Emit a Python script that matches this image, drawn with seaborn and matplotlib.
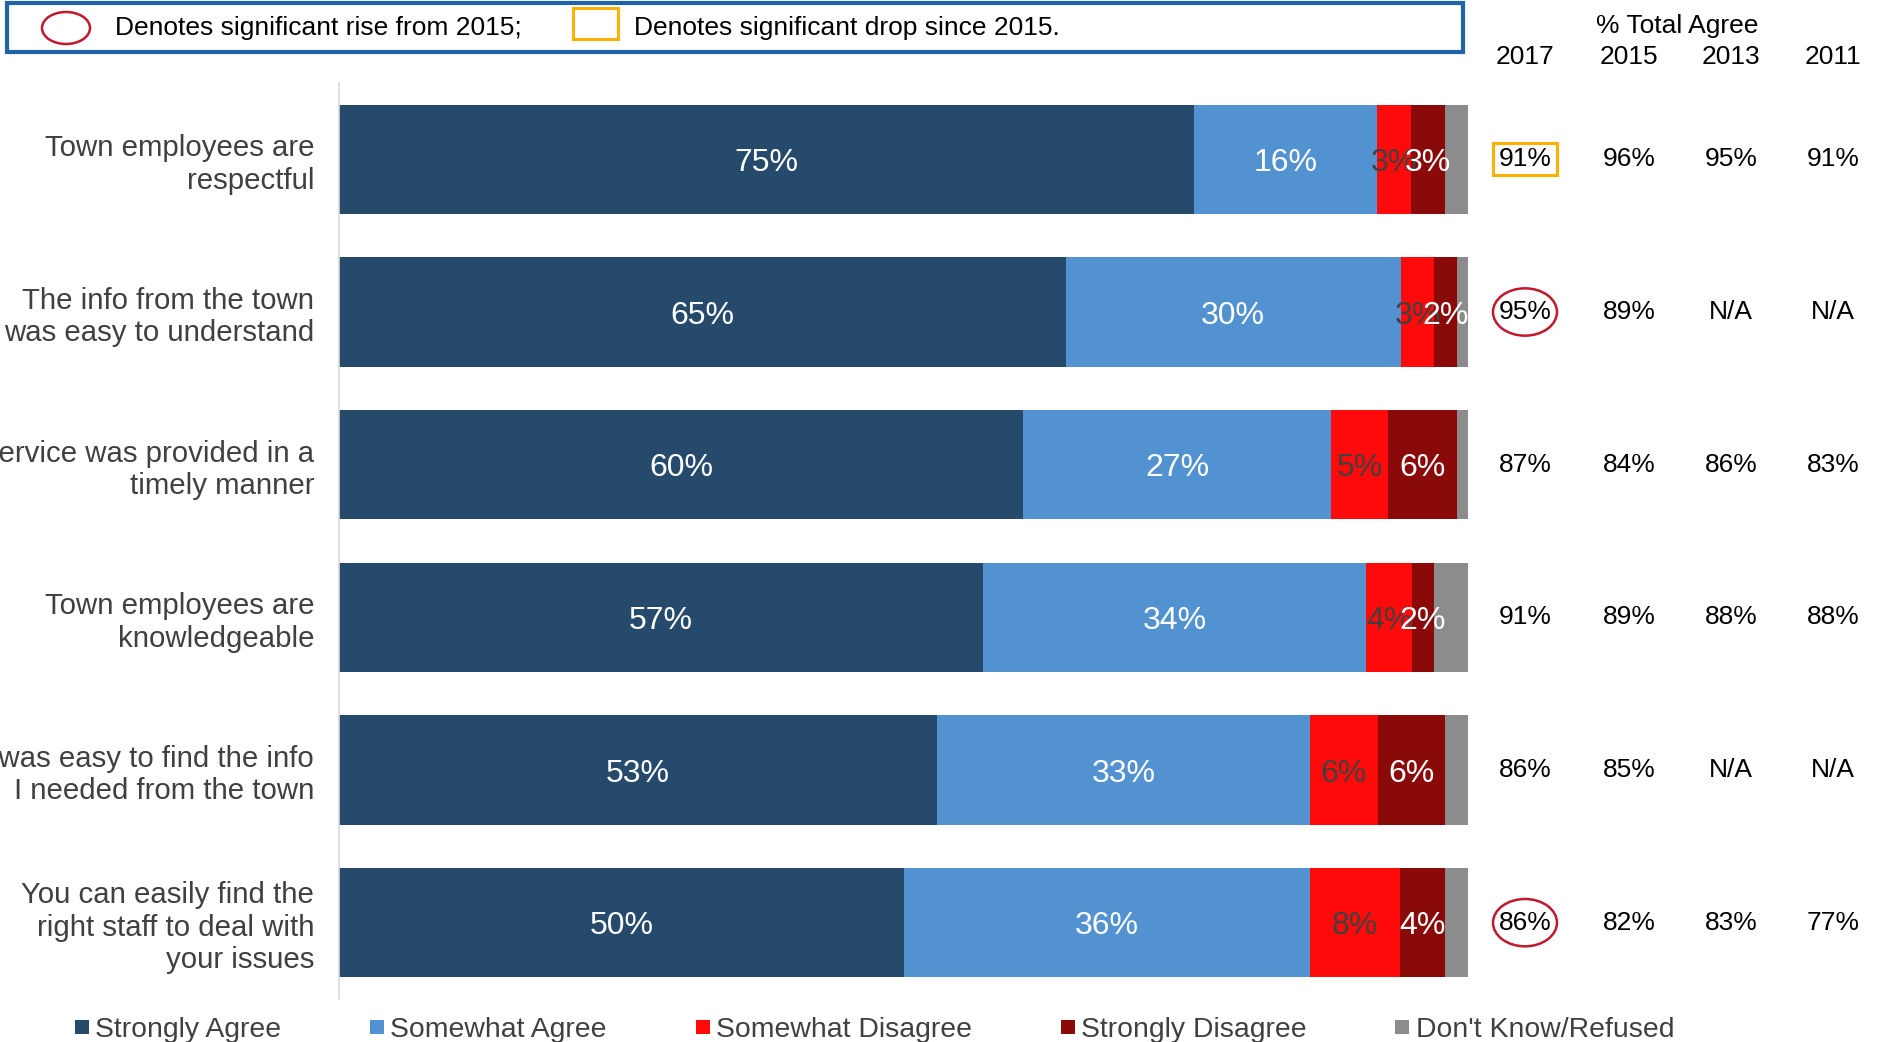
import matplotlib
matplotlib.use("Agg")
import matplotlib.pyplot as plt
import seaborn as sns
import pandas as pd
import numpy as np
from matplotlib.patches import Ellipse, Rectangle
from matplotlib.lines import Line2D
from matplotlib.transforms import blended_transform_factory

# ---- data -------------------------------------------------------------
statements = [
    "Town employees are\nrespectful",
    "The info from the town\nwas easy to understand",
    "Service was provided in a\ntimely manner",
    "Town employees are\nknowledgeable",
    "It was easy to find the info\nI needed from the town",
    "You can easily find the\nright staff to deal with\nyour issues",
]
strongly_agree = [75, 65, 60, 57, 53, 50]
somewhat_agree = [16, 30, 27, 34, 33, 36]
somewhat_disagree = [3, 3, 5, 4, 6, 8]
strongly_disagree = [3, 2, 6, 2, 6, 4]
dont_know = [2, 1, 1, 3, 2, 2]

categories = ["Strongly Agree", "Somewhat Agree", "Somewhat Disagree",
              "Strongly Disagree", "Don't Know/Refused"]
colors = ["#264a6c", "#5292d0", "#fe0a0a", "#8a0a0a", "#8c8c8c"]
label_colors = ["white", "white", "#404040", "white", None]

years = ["2017", "2015", "2013", "2011"]
agree_2017 = ["91%", "95%", "87%", "91%", "86%", "86%"]
agree_2015 = ["96%", "89%", "84%", "89%", "85%", "82%"]
agree_2013 = ["95%", "N/A", "86%", "88%", "N/A", "83%"]
agree_2011 = ["91%", "N/A", "83%", "88%", "N/A", "77%"]
sig_rise_rows = [1, 5]
sig_drop_rows = [0]

# ---- figure -----------------------------------------------------------
W, H = 1885, 1042
sns.set_theme(style="white")
plt.rcParams["font.family"] = ["Liberation Sans", "DejaVu Sans"]

fig = plt.figure(figsize=(W / 100, H / 100), dpi=100)
ax = fig.add_axes([339 / W, 1 - 999 / H, 1129 / W, 916 / H])

df = pd.DataFrame({"Statement": statements})
for name, vals in zip(categories, [strongly_agree, somewhat_agree,
                                   somewhat_disagree, strongly_disagree,
                                   dont_know]):
    df[name] = vals
segs = df[categories].to_numpy(float)
# 100% stacked: each row is scaled to its own total
shares = segs / segs.sum(axis=1, keepdims=True) * 100
cum = shares.cumsum(axis=1)

# stacked bars: draw cumulative totals from the longest to the shortest
for j in reversed(range(len(categories))):
    col = f"cum_{j}"
    df[col] = cum[:, j]
    sns.barplot(data=df, x=col, y="Statement", order=statements,
                color=colors[j], saturation=1, width=0.716, linewidth=0,
                errorbar=None, orient="h", ax=ax)

# segment labels
for j in range(4):
    for i in range(len(statements)):
        left = cum[i, j] - shares[i, j]
        ax.text(left + shares[i, j] / 2, i + 0.025, f"{int(segs[i, j])}%",
                ha="center", va="center", color=label_colors[j],
                fontsize=23, zorder=5 + j)

ax.set_xlim(0, 100)
ax.set_ylim(5.5, -0.5)
ax.set_xlabel("")
ax.set_ylabel("")
ax.set_xticks([])
for side in ["top", "right", "bottom"]:
    ax.spines[side].set_visible(False)
ax.spines["left"].set_color("#d9d9d9")
ax.spines["left"].set_linewidth(1.2)
ax.tick_params(axis="y", length=0, pad=18, labelsize=21.2,
               labelcolor="#404040")

# ---- % total agree table ---------------------------------------------
trans = blended_transform_factory(fig.transFigure, ax.transData)
col_x = [1525 / W, 1629 / W, 1731 / W, 1833 / W]
table = [agree_2017, agree_2015, agree_2013, agree_2011]
fig.text(1677 / W, 1 - 26.5 / H, "% Total Agree", ha="center", va="center",
         fontsize=19, color="black")
for x, yr, vals in zip(col_x, years, table):
    fig.text(x, 1 - 57.5 / H, yr, ha="center", va="center", fontsize=19,
             color="black")
    for i, v in enumerate(vals):
        ax.text(x, i, v, transform=trans, ha="center", va="center",
                fontsize=19, color="black", clip_on=False)

for i in sig_rise_rows:
    fig.add_artist(Ellipse((col_x[0], i), 64 / W, 0.31, transform=trans,
                           fill=False, ec="#c0182c", lw=1.8))
for i in sig_drop_rows:
    fig.add_artist(Rectangle((col_x[0] - 32 / W, i - 0.105), 64 / W, 0.21,
                             transform=trans, fill=False, ec="#ffb000",
                             lw=2.2))

# ---- significance key -------------------------------------------------
fig.add_artist(Rectangle((7 / W, 1 - 52 / H), 1456 / W, 49 / H,
                         transform=fig.transFigure, fill=False,
                         ec="#1f63a8", lw=3))
fig.add_artist(Ellipse((66 / W, 1 - 28 / H), 48 / W, 32 / H,
                       transform=fig.transFigure, fill=False,
                       ec="#c0182c", lw=1.8))
fig.text(115 / W, 1 - 28.5 / H, "Denotes significant rise from 2015;",
         ha="left", va="center", fontsize=19, color="black")
fig.add_artist(Rectangle((573 / W, 1 - 39 / H), 45 / W, 31 / H,
                         transform=fig.transFigure, fill=False,
                         ec="#ffb000", lw=2.2))
fig.text(634 / W, 1 - 28.5 / H, "Denotes significant drop since 2015.",
         ha="left", va="center", fontsize=19, color="black")

# ---- category legend --------------------------------------------------
handles = [Line2D([], [], marker="s", linestyle="none", markersize=10,
                  markerfacecolor=c, markeredgewidth=0) for c in colors]
fig.legend(handles, categories, loc="center left",
           bbox_to_anchor=(74 / W, 1 - 1030 / H), ncol=5, frameon=False,
           fontsize=20.4, labelcolor="#404040", handlelength=0.55,
           handletextpad=0.2, columnspacing=3.1, borderpad=0,
           borderaxespad=0)

fig.savefig("out.png", dpi=100)
